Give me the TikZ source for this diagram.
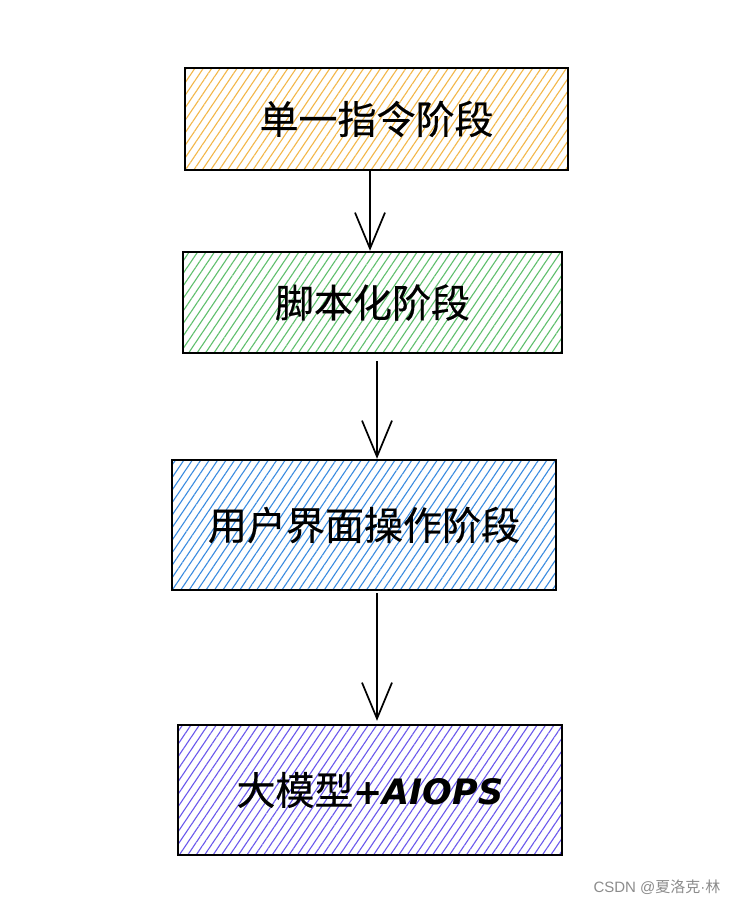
\documentclass[tikz,border=0pt]{standalone}
\usepackage{fontspec}
\setmainfont{Noto Sans CJK SC}
\newfontfamily\cjk[FakeBold=0.4]{Noto Sans CJK SC}
\newfontfamily\cjkplain{Noto Sans CJK SC}
\newfontfamily\latin{Liberation Sans}
\newfontfamily\handfont{DejaVu Sans}
\usetikzlibrary{patterns.meta,arrows.meta}

\definecolor{stageorange}{HTML}{F3B749}
\definecolor{stagegreen}{HTML}{5FBF6D}
\definecolor{stageblue}{HTML}{3A8BE0}
\definecolor{stagepurple}{HTML}{6A58EC}

\tikzset{
  stage/.style={draw=black, line width=2.4pt, inner sep=0pt,
    font=\cjk\fontsize{39}{41}\selectfont},
  hatch/.style={pattern={Lines[angle=56,distance=7pt,line width=1.1pt]},
    pattern color=#1},
  flow/.style={draw=black, line width=1.7pt,
    -{Straight Barb[length=36pt,width=30pt,line width=1.7pt]}}
}

\begin{document}
\begin{tikzpicture}[x=1pt,y=1pt]
	\useasboundingbox[fill=white] (0,0) rectangle (738,-908);
	% stages
	\node[stage, hatch=stageorange, minimum width=383pt, minimum height=102pt] (s1) at (376.5,-119) {单一指令阶段};
	\node[stage, hatch=stagegreen, minimum width=379pt, minimum height=101pt] (s2) at (372.5,-302.5) {脚本化阶段};
	\node[stage, hatch=stageblue, minimum width=384pt, minimum height=130pt] (s3) at (364,-525) {用户界面操作阶段};
	\node[stage, hatch=stagepurple, minimum width=384pt, minimum height=130pt] (s4) at (370,-790) {大模型{\handfont\itshape\bfseries\fontsize{35}{37}\selectfont +AIOPS}};
	% arrows
	\draw[flow] ([xshift=-6.5pt]s1.south) -- ([xshift=-2.5pt]s2.north);
	\draw[flow] ([xshift=4.5pt,yshift=-7pt]s2.south) -- ([xshift=13pt]s3.north);
	\draw[flow] ([xshift=13pt,yshift=-2pt]s3.south) -- ([xshift=7pt,yshift=3pt]s4.north);
	% watermark
	\node[anchor=east, text=black!45, font=\cjkplain\fontsize{15}{17}\selectfont] (mark) at (724,-887) {{\latin CSDN @}夏洛克{\latin ·}林};
\end{tikzpicture}
\end{document}
